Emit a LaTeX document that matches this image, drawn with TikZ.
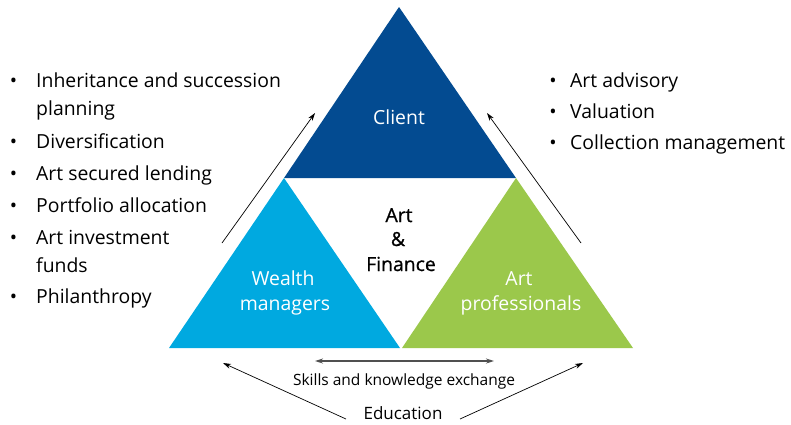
\documentclass[tikz,border=0pt]{standalone}
\usepackage{fontspec}
\setmainfont{Open Sans}
\newfontfamily\midfont[FakeBold=0.8]{Open Sans}
\usetikzlibrary{arrows.meta}
\definecolor{clientblue}{HTML}{034B91}
\definecolor{wealthblue}{HTML}{00A9E0}
\definecolor{artgreen}{HTML}{9BC84B}
\definecolor{exgray}{HTML}{505050}
\begin{document}
\begin{tikzpicture}[x=1pt,y=-1pt,
  txt/.style={inner sep=0pt, anchor=base west, font=\fontsize{19.4}{23}\selectfont},
  bul/.style={inner sep=0pt, anchor=base, font=\fontsize{19.4}{23}\selectfont},
  lbl/.style={inner sep=0pt, anchor=base, font=\fontsize{19.4}{23}\selectfont},
  clbl/.style={inner sep=0pt, anchor=base, font=\midfont\fontsize{19.4}{23}\selectfont},
  wlbl/.style={lbl, text=white},
  arr/.style={-{Stealth[length=8pt,width=5pt]}, line width=0.7pt},
  exarr/.style={{Stealth[length=8pt,width=5pt]}-{Stealth[length=8pt,width=5pt]}, line width=1.3pt, draw=exgray}]
\useasboundingbox (0,0) rectangle (791,424);
% triangles
\fill[clientblue] (399,7) -- (284,178) -- (516,178) -- cycle;
\fill[wealthblue] (284,178) -- (169,348) -- (400,348) -- cycle;
\fill[artgreen] (516,178) -- (402,348) -- (633,348) -- cycle;
% triangle labels
\node[wlbl] (client) at (399,124) {Client};
\node[clbl] (art1) at (399,222) {Art};
\node[clbl] (amp) at (398,246) {\&};
\node[clbl] (fin) at (401,271) {Finance};
\node[wlbl] (w1) at (283,285) {Wealth};
\node[wlbl] (w2) at (285,310) {managers};
\node[wlbl] (p1) at (519,285) {Art};
\node[wlbl] (p2) at (521,310) {professionals};
% left list
\foreach \y in {87,148,180,212,244,303} \node[bul] at (13.5,\y) {\textbullet};
\node[txt] (l1) at (36,87) {Inheritance and succession};
\node[txt] (l1b) at (36,115.5) {planning};
\node[txt] (l2) at (36,148) {Diversification};
\node[txt] (l3) at (36,180) {Art secured lending};
\node[txt] (l4) at (36,212) {Portfolio allocation};
\node[txt] (l5) at (36,244) {Art investment};
\node[txt] (l5b) at (36,272) {funds};
\node[txt] (l6) at (36,303) {Philanthropy};
% right list
\foreach \y in {87,118.5,149.5} \node[bul] at (553,\y) {\textbullet};
\node[txt] (r1) at (570,87) {Art advisory};
\node[txt] (r2) at (570,118.5) {Valuation};
\node[txt] (r3) at (570,149.5) {Collection management};
% bottom labels
\node[inner sep=0pt, anchor=base, font=\fontsize{15.5}{18}\selectfont] (skills) at (404,385) {Skills and knowledge exchange};
\node[inner sep=0pt, anchor=base, font=\fontsize{17}{20}\selectfont] (edu) at (403,419) {Education};
% arrow end points
\coordinate (la0) at (222,243); \coordinate (la1) at (315,113);
\coordinate (ra0) at (581,243); \coordinate (ra1) at (487,113);
\coordinate (ex0) at (315,361); \coordinate (ex1) at (494,361);
\coordinate (el0) at (346,419); \coordinate (el1) at (223,363);
\coordinate (er0) at (460,419); \coordinate (er1) at (583,363);
\draw[arr] (la0) -- (la1);
\draw[arr] (ra0) -- (ra1);
\draw[exarr] (ex0) -- (ex1);
\draw[arr] (el0) -- (el1);
\draw[arr] (er0) -- (er1);
\end{tikzpicture}
\end{document}
